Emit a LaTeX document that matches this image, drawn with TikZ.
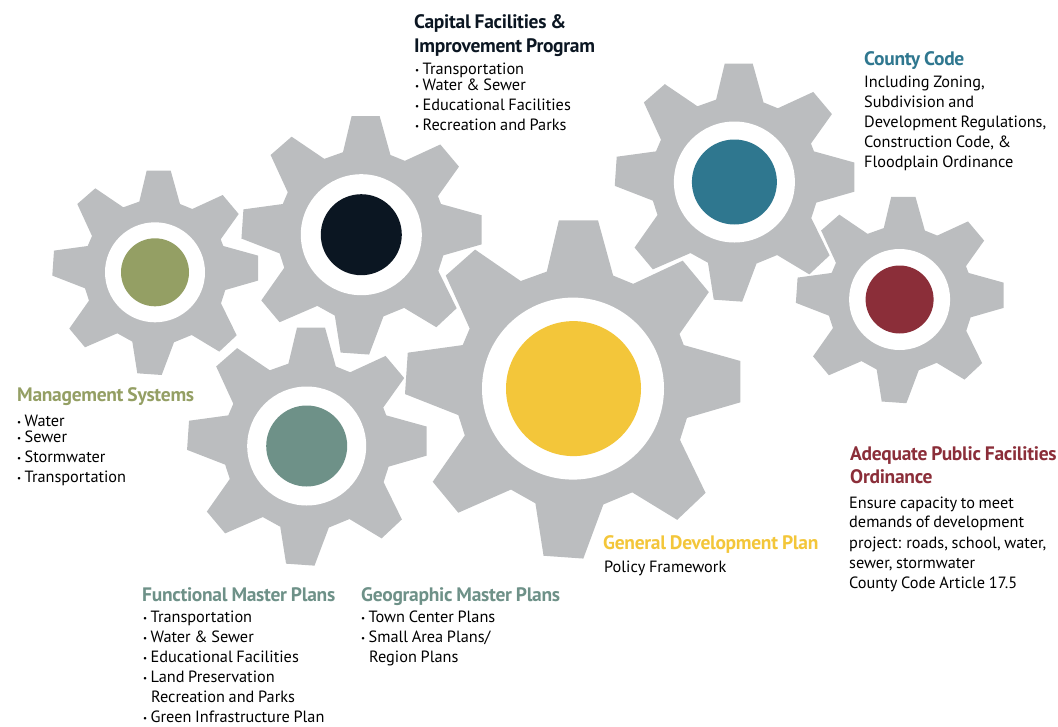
\documentclass[tikz,border=0pt]{standalone}
\usepackage{fontspec}
\setmainfont{PT Sans}[WordSpace=0.85]
\newfontfamily\headfont{PT Sans}[LetterSpace=-1.5,WordSpace=0.85,UprightFont=* Bold]
\definecolor{gearc}{HTML}{BBBDBF}
\definecolor{olivec}{HTML}{949F64}
\definecolor{navyc}{HTML}{0B1622}
\definecolor{tealc}{HTML}{2F778F}
\definecolor{crimc}{HTML}{8B2E39}
\definecolor{sagec}{HTML}{6E9188}
\definecolor{yelc}{HTML}{F3C63A}
\newcommand{\gearpath}{(-8.3,-101.7) -- (15.7,-101.7) -- (25,-68.3) -- (37.3,-63.3) -- (67.7,-77.3) -- (83.7,-58.3) -- (65.7,-33) -- (68.3,-26.3) -- (103,-16.7) -- (103,8.3) -- (70.3,17.7) -- (66,31) -- (81.7,63) -- (64.3,79.3) -- (36.7,62.7) -- (19,70) -- (6.7,102.7) -- (-17.7,101) -- (-22.7,69.3) -- (-37.7,61) -- (-70,75) -- (-85.7,56.3) -- (-66,28.3) -- (-70,16) -- (-102.7,3.3) -- (-101,-21.7) -- (-67.3,-26.3) -- (-63,-36.3) -- (-77.7,-68.3) -- (-59.7,-84) -- (-31.7,-65) -- (-15.7,-70.7) -- cycle}
\tikzset{
 geartooth/.style={fill=gearc,draw=none},
 holec/.style={circle,fill=white,draw=none,inner sep=0pt,minimum size=#1},
 corec/.style={circle,draw=none,inner sep=0pt,minimum size=#1},
 body/.style={anchor=base west,inner sep=0pt,font=\fontsize{16.3}{18}\selectfont,text=black},
 head/.style={anchor=base west,inner sep=0pt,font=\fontsize{19.5}{22}\selectfont\headfont},
}
\newcommand{\bul}{{\fontsize{9}{9}\selectfont\raisebox{0.5pt}{•}}\hspace{3.4pt}}
\begin{document}
\begin{tikzpicture}[x=1pt,y=-1pt]
\useasboundingbox (0,0) rectangle (1058,726);
% gears
\foreach \cx/\cy/\sx/\sy in {155/272.3/1/1, 361.3/234.7/1.167/1.167, 306.7/446/1.165/1.165, 572.4/388.6/1.63/1.655, 734.4/182/1.165/1.165, 899.6/299.5/1.01/1.01}{
  \begin{scope}[shift={(\cx,\cy)},xscale=\sx,yscale=\sy]
   \fill[geartooth] \gearpath;
  \end{scope}
}
\node[holec=100pt] (h1) at (155,272.3) {};
\node[corec=68pt,fill=olivec] (c1) at (155,272.3) {};
\node[holec=121pt] (h2) at (361.3,234.7) {};
\node[corec=81pt,fill=navyc] (c2) at (361.3,234.7) {};
\node[holec=119pt] (h3) at (306.7,446) {};
\node[corec=81pt,fill=sagec] (c3) at (306.7,446) {};
\node[holec=182pt] (h4) at (573,388.6) {};
\node[corec=135pt,fill=yelc] (c4) at (573.5,388.6) {};
\node[holec=121pt] (h5) at (734.4,182) {};
\node[corec=85pt,fill=tealc] (c5) at (734.4,182) {};
\node[holec=101pt] (h6) at (899.6,299.5) {};
\node[corec=68pt,fill=crimc] (c6) at (899.6,299.5) {};
% capital
\node[head,text=navyc] (t1) at (414,28) {Capital Facilities \&};
\node[head,text=navyc] (t2) at (414,52) {Improvement Program};
\node[body] (t3) at (415,74) {\bul Transportation};
\node[body] (t4) at (415,90) {\bul Water \& Sewer};
\node[body] (t5) at (415,110) {\bul Educational Facilities};
\node[body] (t6) at (415,130) {\bul Recreation and Parks};
% county
\node[head,text=tealc] (t7) at (864,65) {County Code};
\node[body] (t8) at (864,87) {Including Zoning,};
\node[body] (t9) at (864,107) {Subdivision and};
\node[body] (t10) at (864,127) {Development Regulations,};
\node[body] (t11) at (864,147) {Construction Code, \&};
\node[body] (t12) at (864,167) {Floodplain Ordinance};
% mgmt
\node[head,text=olivec] (t13) at (17,401) {Management Systems};
\node[body] (t14) at (17,426) {\bul Water};
\node[body] (t15) at (17,442) {\bul Sewer};
\node[body] (t16) at (17,462) {\bul Stormwater};
\node[body] (t17) at (17,482) {\bul Transportation};
% APFO
\node[head,text=crimc] (t18) at (850,460) {Adequate Public Facilities};
\node[head,text=crimc] (t19) at (850,483) {Ordinance};
\node[body] (t20) at (849,508) {Ensure capacity to meet};
\node[body] (t21) at (849,527) {demands of development};
\node[body] (t22) at (849,548) {project: roads, school, water,};
\node[body] (t23) at (849,568) {sewer, stormwater};
\node[body] (t24) at (849,588) {County Code Article 17.5};
% GDP
\node[head,text=yelc] (t25) at (603,549) {General Development Plan};
\node[body] (t26) at (604,572) {Policy Framework};
% functional
\node[head,text=sagec] (t27) at (142,601) {Functional Master Plans};
\node[body] (t28) at (143,622) {\bul Transportation};
\node[body] (t29) at (143,642) {\bul Water \& Sewer};
\node[body] (t30) at (143,662) {\bul Educational Facilities};
\node[body] (t31) at (143,682) {\bul Land Preservation};
\node[body] (t32) at (151,702) {Recreation and Parks};
\node[body] (t33) at (143,722) {\bul Green Infrastructure Plan};
% geographic
\node[head,text=sagec] (t34) at (361,601) {Geographic Master Plans};
\node[body] (t35) at (361,622) {\bul Town Center Plans};
\node[body] (t36) at (361,642) {\bul Small Area Plans/};
\node[body] (t37) at (369,662) {Region Plans};
\end{tikzpicture}
\end{document}
